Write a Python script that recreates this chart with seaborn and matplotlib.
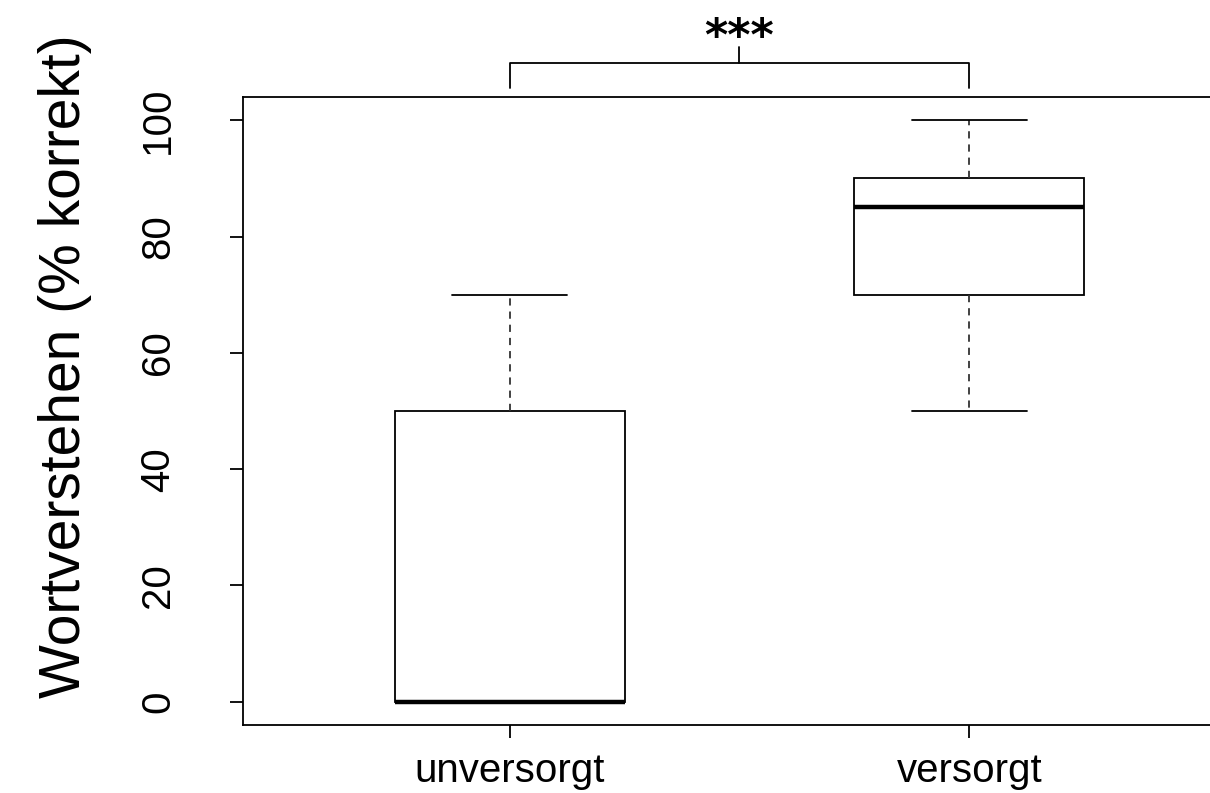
import pandas as pd
import numpy as np
import matplotlib
matplotlib.use('Agg')
import matplotlib.pyplot as plt
import seaborn as sns

# Wortverstehen in % korrekt, je Gruppe
gruppen = ['unversorgt', 'versorgt']
werte_unversorgt = [0, 0, 0, 0, 0, 0, 0, 10, 50, 50, 60, 70]
werte_versorgt = [50, 60, 70, 70, 80, 80, 90, 90, 90, 90, 100, 100]
y_ticks = [0, 20, 40, 60, 80, 100]
signifikanz = '***'

df = pd.DataFrame({
    'gruppe': [gruppen[0]] * len(werte_unversorgt) + [gruppen[1]] * len(werte_versorgt),
    'wert': werte_unversorgt + werte_versorgt,
})

sns.set_style('ticks')
plt.rcParams['font.family'] = ['Liberation Sans', 'DejaVu Sans']
plt.rcParams['text.color'] = 'black'

fig = plt.figure(figsize=(12.1, 7.93), dpi=100)
ax = fig.add_axes([243 / 1210, 68 / 793, 993 / 1210, 628 / 793])

lw = 1.3
sns.boxplot(data=df, x='gruppe', y='wert', order=gruppen, width=0.5,
            color='white', linecolor='black', linewidth=lw, whis=1.5,
            medianprops={'linewidth': 3.2},
            whiskerprops={'linestyle': (0, (4, 3.3)), 'color': '#333333'},
            ax=ax)

ax.set_xlim(-0.58, 1.58)
ax.set_ylim(-4, 104)
ax.set_yticks(y_ticks)
ax.set_yticklabels([str(t) for t in y_ticks], rotation=90, va='center')
ax.set_xlabel('')
ax.set_ylabel('')
for s in ax.spines.values():
    s.set_visible(True)
    s.set_linewidth(lw)
    s.set_color('black')
ax.tick_params(axis='both', direction='out', length=9.5, width=lw, colors='black',
               labelcolor='black', labelsize=29)
ax.tick_params(axis='y', pad=38)
ax.tick_params(axis='x', pad=10)

fig.text(65 / 1210, 1 - 366 / 793, 'Wortverstehen (% korrekt)', rotation=90,
         ha='center', va='center', fontsize=41, color='black')

# Signifikanzklammer
ax.plot([0, 0, 1, 1], [105.5, 109.8, 109.8, 105.5], color='black', lw=lw, clip_on=False)
ax.plot([0.5, 0.5], [109.8, 112.6], color='black', lw=lw, clip_on=False)
ax.text(0.5, 112.0, signifikanz, ha='center', va='baseline', fontsize=32,
        family='DejaVu Sans', fontweight='bold', color='black', clip_on=False)

fig.savefig('out.png', dpi=100)
